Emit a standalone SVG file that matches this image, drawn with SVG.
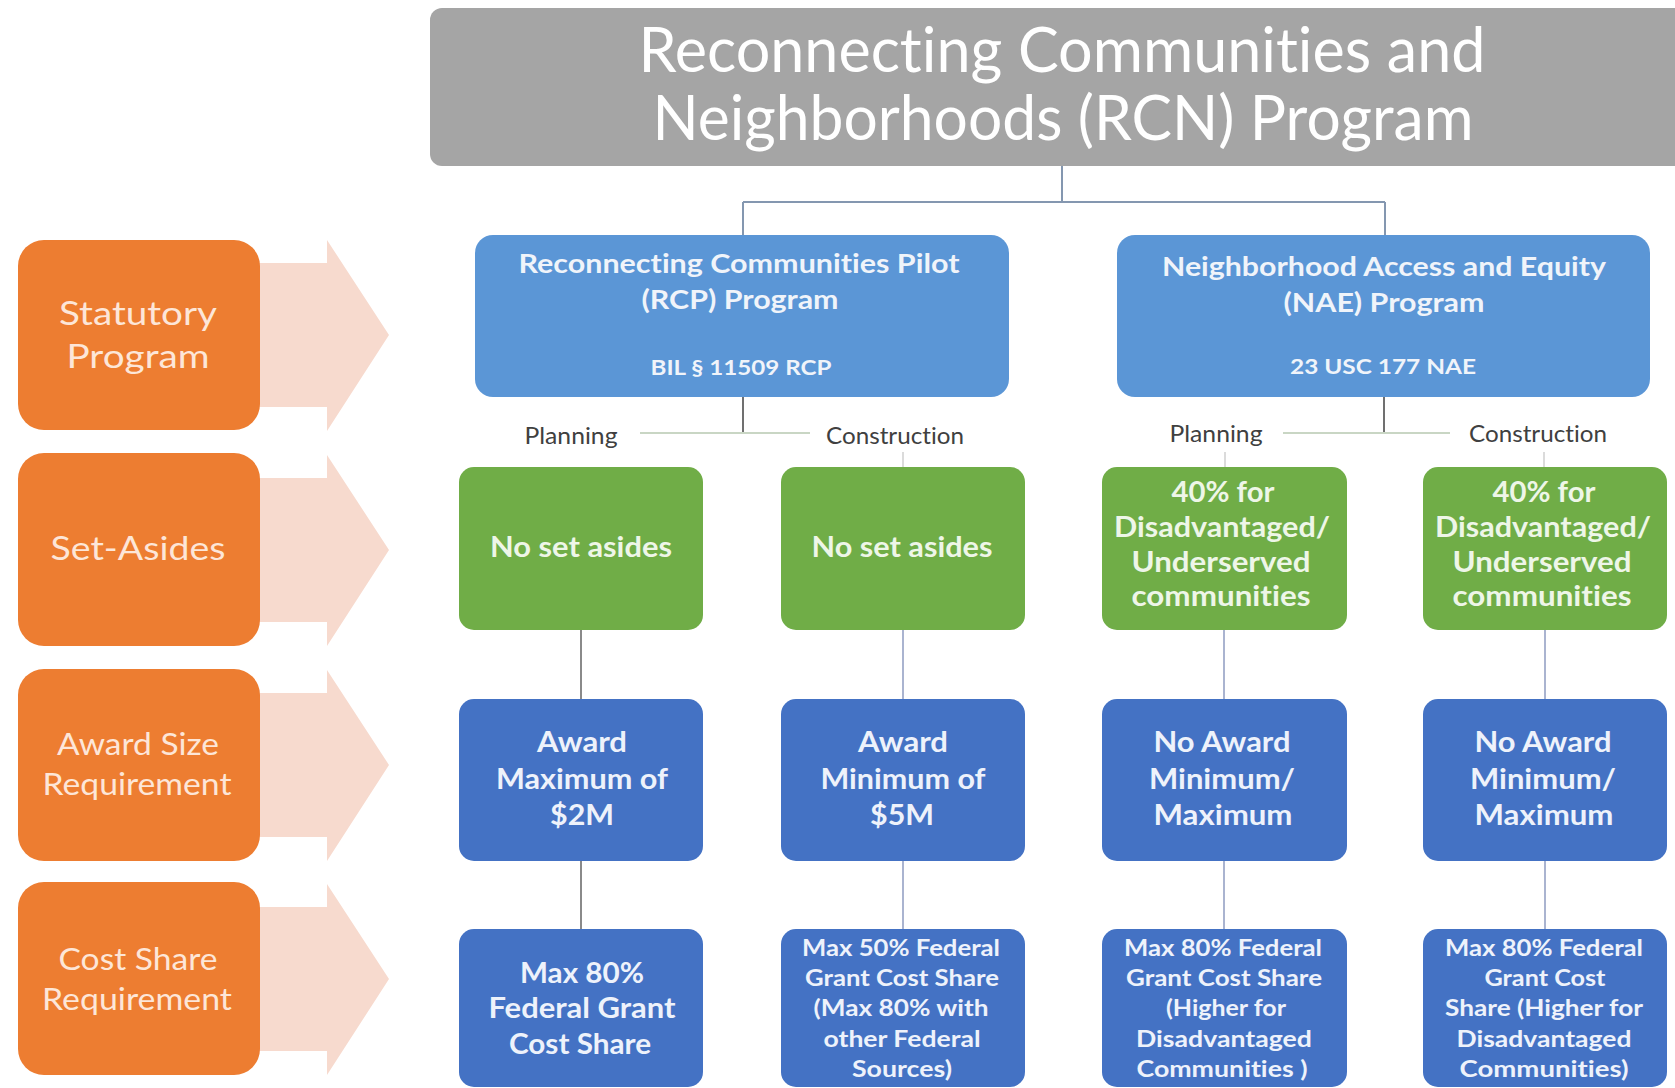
<svg xmlns="http://www.w3.org/2000/svg" width="1675" height="1088" viewBox="0 0 1675 1088">
<style>
text{font-family:Lato,"Open Sans","Liberation Sans",sans-serif;text-anchor:middle;font-variant-ligatures:none;font-feature-settings:"liga" 0}
.title{font-size:62px;fill:#ffffff}
.lbl{font-size:32px;fill:#fde6d8}
.prog{font-size:26px;font-weight:bold;fill:#f0f4fa}
.law{font-size:20px;font-weight:bold;fill:#f0f4fa}
.phase{font-size:24px;fill:#404040}
.g{font-size:28px;font-weight:bold;fill:#eef6e8}
.b{font-size:29px;font-weight:bold;fill:#eef2fb}
.bs{font-size:22px;font-weight:bold;fill:#eef2fb}
.orange{fill:#ED7D31}
.arrow{fill:#F7DACE}
.progbox{fill:#5B96D6}
.green{fill:#70AD47}
.blue{fill:#4472C4}
.c1{fill:none;stroke:#8497B0;stroke-width:2}
.c2{fill:none;stroke:#707070;stroke-width:2}
.c3{fill:none;stroke:#c9d6c4;stroke-width:2}
.c4{fill:none;stroke:#8a8a8a;stroke-width:2}
.c5{fill:none;stroke:#aab4d0;stroke-width:2}
.tick{fill:none;stroke:#d0d0d0;stroke-width:1.5}
</style>
<rect width="1675" height="1088" fill="#ffffff"/>

<g id="arrows">
<polygon class="arrow" points="245,263 327,263 327,240 389,335 327,431 327,407 245,407"/>
<polygon class="arrow" points="245,478 327,478 327,455 389,550 327,646 327,622 245,622"/>
<polygon class="arrow" points="245,693 327,693 327,670 389,765 327,861 327,837 245,837"/>
<polygon class="arrow" points="245,907 327,907 327,884 389,979 327,1075 327,1051 245,1051"/>
</g>

<g id="connectors">
<path class="c1" d="M1062 166 V202 M743 202 H1385 M743 202 V235 M1385 202 V235"/>
<path class="c2" d="M743 397 V433 M1384 397 V433"/>
<path class="c3" d="M640 433 H810 M1283 433 H1450"/>
<path class="tick" d="M903 452 V467 M1225 452 V467 M1544 452 V467"/>
<path class="c4" d="M581 630 V699 M581 861 V929"/>
<path class="c5" d="M903 630 V699 M903 861 V929 M1224 630 V699 M1224 861 V929 M1545 630 V699 M1545 861 V929"/>
</g>

<g id="title">
<rect x="430" y="8" width="1290" height="158" rx="12" fill="#A5A5A5"/>
<text class="title" x="1062" y="72" textLength="847" lengthAdjust="spacingAndGlyphs">Reconnecting Communities and</text>
<text class="title" x="1063" y="140" textLength="821" lengthAdjust="spacingAndGlyphs">Neighborhoods (RCN) Program</text>
</g>

<g id="lbl-statutory">
<rect class="orange" x="18" y="240" width="242" height="190" rx="26"/>
<text class="lbl" x="138" y="325" textLength="158" lengthAdjust="spacingAndGlyphs">Statutory</text>
<text class="lbl" x="138" y="368" textLength="143" lengthAdjust="spacingAndGlyphs">Program</text>
</g>
<g id="lbl-setasides">
<rect class="orange" x="18" y="453" width="242" height="193" rx="26"/>
<text class="lbl" x="138" y="560" textLength="175" lengthAdjust="spacingAndGlyphs">Set-Asides</text>
</g>
<g id="lbl-award">
<rect class="orange" x="18" y="669" width="242" height="192" rx="26"/>
<text class="lbl" x="138" y="755" textLength="162" lengthAdjust="spacingAndGlyphs" style="font-size:30px">Award Size</text>
<text class="lbl" x="137" y="795" textLength="189" lengthAdjust="spacingAndGlyphs" style="font-size:30px">Requirement</text>
</g>
<g id="lbl-costshare">
<rect class="orange" x="18" y="882" width="242" height="193" rx="26"/>
<text class="lbl" x="138" y="970" textLength="159" lengthAdjust="spacingAndGlyphs" style="font-size:30px">Cost Share</text>
<text class="lbl" x="137" y="1010" textLength="190" lengthAdjust="spacingAndGlyphs" style="font-size:30px">Requirement</text>
</g>

<g id="rcp">
<rect class="progbox" x="475" y="235" width="534" height="162" rx="18"/>
<text class="prog" x="739" y="273" textLength="441" lengthAdjust="spacingAndGlyphs">Reconnecting Communities Pilot</text>
<text class="prog" x="740" y="309" textLength="197" lengthAdjust="spacingAndGlyphs">(RCP) Program</text>
<text class="law" x="741" y="375" textLength="181" lengthAdjust="spacingAndGlyphs">BIL § 11509 RCP</text>
</g>
<g id="nae">
<rect class="progbox" x="1117" y="235" width="533" height="162" rx="18"/>
<text class="prog" x="1384" y="276" textLength="444" lengthAdjust="spacingAndGlyphs">Neighborhood Access and Equity</text>
<text class="prog" x="1384" y="312" textLength="201" lengthAdjust="spacingAndGlyphs">(NAE) Program</text>
<text class="law" x="1383" y="374" textLength="186" lengthAdjust="spacingAndGlyphs">23 USC 177 NAE</text>
</g>

<g id="phase-labels">
<text class="phase" x="571" y="444" textLength="93" lengthAdjust="spacingAndGlyphs">Planning</text>
<text class="phase" x="895" y="444" textLength="138" lengthAdjust="spacingAndGlyphs">Construction</text>
<text class="phase" x="1216" y="442" textLength="93" lengthAdjust="spacingAndGlyphs">Planning</text>
<text class="phase" x="1538" y="442" textLength="138" lengthAdjust="spacingAndGlyphs">Construction</text>
</g>

<g id="setaside-rcp-planning">
<rect class="green" x="459" y="467" width="244" height="163" rx="15"/>
<text class="g" x="581" y="557" textLength="182" lengthAdjust="spacingAndGlyphs">No set asides</text>
</g>
<g id="setaside-rcp-construction">
<rect class="green" x="781" y="467" width="244" height="163" rx="15"/>
<text class="g" x="902" y="557" textLength="181" lengthAdjust="spacingAndGlyphs">No set asides</text>
</g>
<g id="setaside-nae-planning">
<rect class="green" x="1102" y="467" width="245" height="163" rx="15"/>
<text class="g" x="1223" y="502" textLength="103" lengthAdjust="spacingAndGlyphs">40% for</text>
<text class="g" x="1222" y="537" textLength="216" lengthAdjust="spacingAndGlyphs">Disadvantaged/</text>
<text class="g" x="1221" y="572" textLength="179" lengthAdjust="spacingAndGlyphs">Underserved</text>
<text class="g" x="1221" y="606" textLength="179" lengthAdjust="spacingAndGlyphs">communities</text>
</g>
<g id="setaside-nae-construction">
<rect class="green" x="1423" y="467" width="244" height="163" rx="15"/>
<text class="g" x="1544" y="502" textLength="103" lengthAdjust="spacingAndGlyphs">40% for</text>
<text class="g" x="1543" y="537" textLength="216" lengthAdjust="spacingAndGlyphs">Disadvantaged/</text>
<text class="g" x="1542" y="572" textLength="179" lengthAdjust="spacingAndGlyphs">Underserved</text>
<text class="g" x="1542" y="606" textLength="179" lengthAdjust="spacingAndGlyphs">communities</text>
</g>

<g id="award-rcp-planning">
<rect class="blue" x="459" y="699" width="244" height="162" rx="15"/>
<text class="b" x="582" y="752" textLength="90" lengthAdjust="spacingAndGlyphs">Award</text>
<text class="b" x="582" y="789" textLength="172" lengthAdjust="spacingAndGlyphs">Maximum of</text>
<text class="b" x="582" y="825" textLength="64" lengthAdjust="spacingAndGlyphs">$2M</text>
</g>
<g id="award-rcp-construction">
<rect class="blue" x="781" y="699" width="244" height="162" rx="15"/>
<text class="b" x="903" y="752" textLength="90" lengthAdjust="spacingAndGlyphs">Award</text>
<text class="b" x="903" y="789" textLength="165" lengthAdjust="spacingAndGlyphs">Minimum of</text>
<text class="b" x="902" y="825" textLength="64" lengthAdjust="spacingAndGlyphs">$5M</text>
</g>
<g id="award-nae-planning">
<rect class="blue" x="1102" y="699" width="245" height="162" rx="15"/>
<text class="b" x="1222" y="752" textLength="137" lengthAdjust="spacingAndGlyphs">No Award</text>
<text class="b" x="1222" y="789" textLength="146" lengthAdjust="spacingAndGlyphs">Minimum/</text>
<text class="b" x="1223" y="825" textLength="139" lengthAdjust="spacingAndGlyphs">Maximum</text>
</g>
<g id="award-nae-construction">
<rect class="blue" x="1423" y="699" width="244" height="162" rx="15"/>
<text class="b" x="1543" y="752" textLength="137" lengthAdjust="spacingAndGlyphs">No Award</text>
<text class="b" x="1543" y="789" textLength="146" lengthAdjust="spacingAndGlyphs">Minimum/</text>
<text class="b" x="1544" y="825" textLength="139" lengthAdjust="spacingAndGlyphs">Maximum</text>
</g>

<g id="cost-rcp-planning">
<rect class="blue" x="459" y="929" width="244" height="158" rx="15"/>
<text class="b" x="582" y="983" textLength="124" lengthAdjust="spacingAndGlyphs">Max 80%</text>
<text class="b" x="582" y="1018" textLength="187" lengthAdjust="spacingAndGlyphs">Federal Grant</text>
<text class="b" x="580" y="1054" textLength="142" lengthAdjust="spacingAndGlyphs">Cost Share</text>
</g>
<g id="cost-rcp-construction">
<rect class="blue" x="781" y="929" width="244" height="158" rx="15"/>
<text class="bs" x="901" y="956" textLength="198" lengthAdjust="spacingAndGlyphs">Max 50% Federal</text>
<text class="bs" x="902" y="986" textLength="194" lengthAdjust="spacingAndGlyphs">Grant Cost Share</text>
<text class="bs" x="901" y="1016" textLength="175" lengthAdjust="spacingAndGlyphs">(Max 80% with</text>
<text class="bs" x="902" y="1047" textLength="157" lengthAdjust="spacingAndGlyphs">other Federal</text>
<text class="bs" x="902" y="1077" textLength="100" lengthAdjust="spacingAndGlyphs">Sources)</text>
</g>
<g id="cost-nae-planning">
<rect class="blue" x="1102" y="929" width="245" height="158" rx="15"/>
<text class="bs" x="1223" y="956" textLength="198" lengthAdjust="spacingAndGlyphs">Max 80% Federal</text>
<text class="bs" x="1224" y="986" textLength="196" lengthAdjust="spacingAndGlyphs">Grant Cost Share</text>
<text class="bs" x="1226" y="1016" textLength="120" lengthAdjust="spacingAndGlyphs">(Higher for</text>
<text class="bs" x="1224" y="1047" textLength="176" lengthAdjust="spacingAndGlyphs">Disadvantaged</text>
<text class="bs" x="1222" y="1077" textLength="171" lengthAdjust="spacingAndGlyphs">Communities )</text>
</g>
<g id="cost-nae-construction">
<rect class="blue" x="1423" y="929" width="244" height="158" rx="15"/>
<text class="bs" x="1544" y="956" textLength="198" lengthAdjust="spacingAndGlyphs">Max 80% Federal</text>
<text class="bs" x="1545" y="986" textLength="121" lengthAdjust="spacingAndGlyphs">Grant Cost</text>
<text class="bs" x="1544" y="1016" textLength="198" lengthAdjust="spacingAndGlyphs">Share (Higher for</text>
<text class="bs" x="1544" y="1047" textLength="175" lengthAdjust="spacingAndGlyphs">Disadvantaged</text>
<text class="bs" x="1544" y="1077" textLength="169" lengthAdjust="spacingAndGlyphs">Communities)</text>
</g>
</svg>
